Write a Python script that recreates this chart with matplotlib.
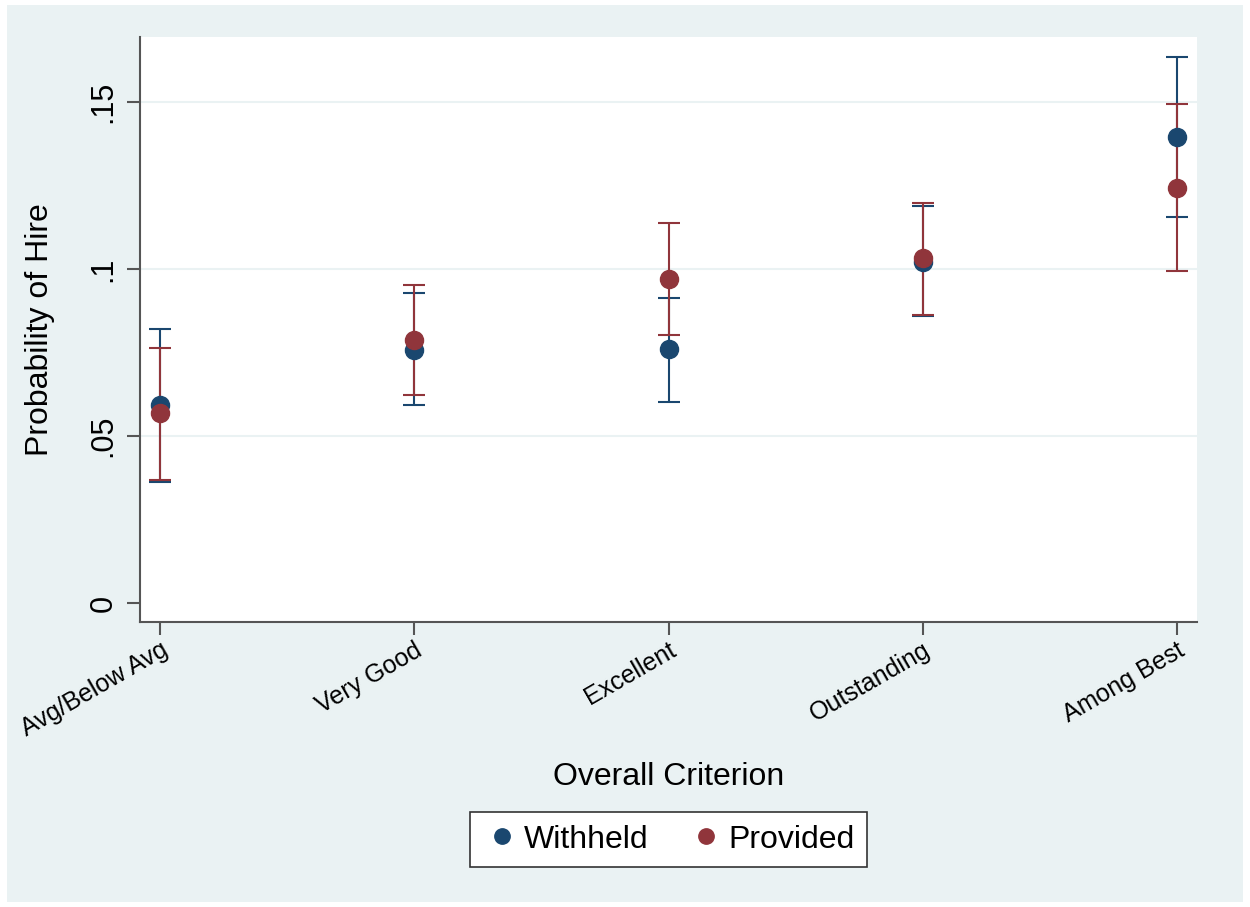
import numpy as np
import matplotlib
matplotlib.use("Agg")
import matplotlib.pyplot as plt
from matplotlib.patches import Rectangle

plt.rcParams['font.family'] = ['Liberation Sans', 'DejaVu Sans']

categories = ["Avg/Below Avg", "Very Good", "Excellent", "Outstanding", "Among Best"]

withheld = [0.0593, 0.0757, 0.0760, 0.1021, 0.1395]
withheld_lo = [0.0362, 0.0593, 0.0602, 0.0859, 0.1156]
withheld_hi = [0.0820, 0.0928, 0.0913, 0.1189, 0.1635]

provided = [0.0569, 0.0787, 0.0970, 0.1033, 0.1243]
provided_lo = [0.0368, 0.0623, 0.0802, 0.0862, 0.0994]
provided_hi = [0.0763, 0.0952, 0.1138, 0.1198, 0.1494]

navy = '#1A476F'
maroon = '#90353B'
bg = '#EAF2F3'

fig = plt.figure(figsize=(12.5, 9.07), dpi=100, facecolor='white')
fig.patches.append(Rectangle((7 / 1250, 5 / 907), 1236 / 1250, 897 / 907,
                             transform=fig.transFigure, facecolor=bg,
                             edgecolor='none', zorder=-10))

ax = fig.add_axes([0.112, 0.3142, 0.8456, 0.645])
ax.set_facecolor('white')

x = np.arange(1, len(categories) + 1)

# confidence intervals first, then the points on top
ax.errorbar(x, withheld, yerr=[np.subtract(withheld, withheld_lo), np.subtract(withheld_hi, withheld)],
            fmt='none', ecolor=navy, elinewidth=1.5, capsize=8, capthick=1.5, zorder=2)
ax.errorbar(x, provided, yerr=[np.subtract(provided, provided_lo), np.subtract(provided_hi, provided)],
            fmt='none', ecolor=maroon, elinewidth=1.5, capsize=8, capthick=1.5, zorder=3)
ax.plot(x, withheld, 'o', color=navy, markersize=13, zorder=4, label='Withheld')
ax.plot(x, provided, 'o', color=maroon, markersize=13, zorder=5, label='Provided')

ax.set_xlim(0.921, 5.079)
ax.set_ylim(-0.0057, 0.1695)

ax.set_yticks([0, 0.05, 0.1, 0.15])
ax.set_yticklabels(['0', '.05', '.1', '.15'], rotation=90, va='center', fontsize=22)
ax.set_xticks(x)
ax.set_xticklabels(categories, rotation=30, ha='right', rotation_mode='anchor', fontsize=18)

for yv in [0.05, 0.1, 0.15]:
    ax.axhline(yv, color=bg, linewidth=1.5, zorder=1)

for s in ['top', 'right']:
    ax.spines[s].set_visible(False)
for s in ['left', 'bottom']:
    ax.spines[s].set_color('#555555')
    ax.spines[s].set_linewidth(1.5)
ax.tick_params(axis='both', direction='out', length=9.4, width=1.5, color='#555555')
ax.tick_params(axis='y', pad=6)
ax.tick_params(axis='x', pad=2)

ax.set_ylabel('Probability of Hire', fontsize=23, labelpad=24)
ax.set_xlabel('Overall Criterion', fontsize=23, labelpad=15)

leg = ax.legend(loc='center', bbox_to_anchor=(0.5, -0.372), ncol=2, fontsize=23,
                frameon=True, fancybox=False, edgecolor='#333333', facecolor='white',
                framealpha=1, handletextpad=0.1, columnspacing=1.2, borderpad=0.4,
                markerscale=0.85, handlelength=1.2)
leg.get_frame().set_linewidth(1.2)

fig.savefig('out.png', dpi=100, facecolor='white')
